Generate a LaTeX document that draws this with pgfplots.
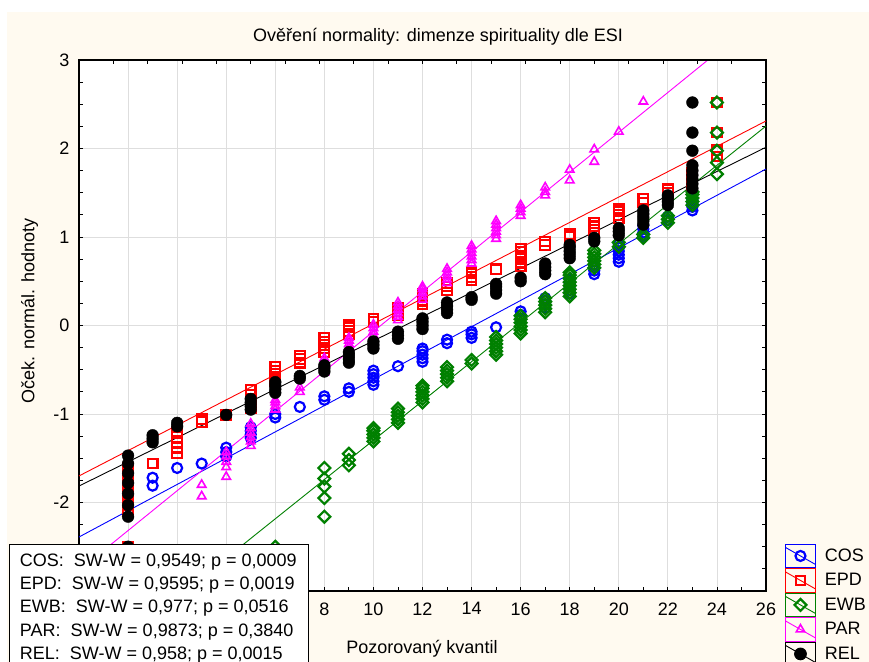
\documentclass[border=0pt]{standalone}
\usepackage{fontspec}
\setmainfont{Liberation Sans}
\usepackage{pgfplots}
\pgfplotsset{compat=1.18}

\definecolor{cream}{RGB}{255,250,240}
\definecolor{gridgray}{RGB}{222,222,222}
\definecolor{ewbgreen}{RGB}{0,128,0}
\definecolor{cosblue}{RGB}{0,0,255}
\definecolor{epdred}{RGB}{255,0,0}
\definecolor{parmag}{RGB}{255,0,255}
\newcommand{\fs}{\fontsize{18bp}{21bp}\selectfont}

\pgfplotsset{
  cosmark/.style={cosblue, mark=o, mark size=5.0bp, mark options={line width=2.2bp}},
  epdmark/.style={epdred, mark=square, mark size=4.8bp, mark options={line width=2.2bp}},
  ewbmark/.style={ewbgreen, mark=square, mark size=4.2bp, mark options={rotate=45, line width=2.2bp}},
  parmark/.style={parmag, mark=triangle, mark size=4.9bp, mark options={line width=1.6bp}},
  relmark/.style={black, mark=*, mark size=5.9bp},
}

\begin{document}
\begin{tikzpicture}
% page = 869 x 662 px, axis box from (79,60) to (766,591) px
\path[use as bounding box] (-79bp,-71bp) rectangle (790bp,591bp);
\fill[white] (-79bp,-71bp) rectangle (790bp,591bp);
\fill[cream] (-72bp,-71bp) rectangle (790bp,579bp);

\begin{axis}[
    at={(0,0)}, anchor=south west,
    scale only axis, width=687bp, height=531bp,
    xmin=-2, xmax=26, ymin=-3, ymax=3,
    xtick={-2,0,...,26}, minor x tick num=1,
    xticklabels={{},{},{},{},{},8,10,12,14,16,18,20,22,24,26},
    ytick={-3,-2,...,3}, minor y tick num=3,
    yticklabels={{},-2,-1,0,1,2,3},
    xtick pos=left, ytick pos=both, yticklabel pos=left,
    tick align=inside, major tick length=4bp, minor tick length=4bp,
    tick style={line width=0.8bp, black},
    axis line style={line width=1.2bp},
    grid=major, major grid style={line width=0.8bp, gridgray},
    axis background/.style={fill=white},
    tick label style={font=\fs},
    /pgf/number format/assume math mode=true,
    xticklabel style={yshift=-8bp},
    yticklabel style={xshift=-6bp},
    legend image code/.code={
        \path (0bp,-11.8bp) rectangle (30bp,11.8bp);
        \draw[mark repeat=2,mark phase=2,#1] plot coordinates {(0bp,8.5bp) (15bp,0bp) (30bp,-8.5bp)};},
    legend style={at={(axis description cs:1.0277,0.0891)}, anchor=north west,
        draw=none, fill=none, inner sep=0pt, outer sep=0pt,
        row sep=0pt, column sep=9bp, font=\fs, nodes={inner sep=0pt}},
    legend cell align=left,
]
% COS
\addplot[only marks, cosmark, forget plot] coordinates {
(1,-1.81)(1,-1.72)(2,-1.61)(3,-1.56)(4,-1.48)(4,-1.43)(4,-1.38)(5,-1.27)(5,-1.23)(5,-1.19)(5,-1.15)
(6,-1.04)(6,-1.00)(7,-0.92)(8,-0.84)(8,-0.80)(9,-0.75)(9,-0.71)(10,-0.67)(10,-0.63)(10,-0.59)(10,-0.55)(10,-0.51)
(11,-0.46)(12,-0.41)(12,-0.37)(12,-0.33)(12,-0.29)(12,-0.26)(13,-0.20)(13,-0.16)(14,-0.14)(14,-0.10)(14,-0.07)
(15,-0.02)(16,0.08)(16,0.12)(16,0.16)(17,0.20)(17,0.24)(17,0.28)(17,0.31)(18,0.36)(18,0.40)(18,0.44)(18,0.48)(18,0.52)
(19,0.58)(19,0.62)(19,0.66)(20,0.72)(20,0.76)(20,0.80)(20,0.84)(20,0.88)(20,0.92)(21,1.01)(21,1.05)(21,1.09)(21,1.13)
(22,1.19)(22,1.23)(23,1.30)(23,1.34)(23,1.38)(23,1.42)};
\addplot[cosblue, line width=0.9bp, forget plot] coordinates {(-2,-2.39) (26,1.768)};
% EPD
\addplot[only marks, epdmark, forget plot] coordinates {
(0,-2.50)(0,-2.10)(0,-2.03)(0,-1.96)(0,-1.89)(0,-1.82)(0,-1.75)(0,-1.68)(0,-1.61)(1,-1.56)
(2,-1.44)(2,-1.38)(2,-1.32)(2,-1.26)(2,-1.20)(3,-1.09)(3,-1.06)(4,-1.01)
(5,-0.93)(5,-0.88)(5,-0.83)(5,-0.78)(5,-0.73)(6,-0.63)(6,-0.59)(6,-0.55)(6,-0.51)(6,-0.47)
(7,-0.42)(7,-0.38)(7,-0.34)(8,-0.30)(8,-0.26)(8,-0.22)(8,-0.18)(8,-0.14)(9,-0.10)(9,-0.06)(9,-0.02)(9,0.01)
(10,0.04)(10,0.08)(11,0.12)(11,0.16)(11,0.20)(12,0.24)(12,0.28)(12,0.32)(12,0.36)(13,0.40)(13,0.44)(13,0.48)
(14,0.51)(14,0.55)(14,0.59)(15,0.635)(16,0.67)(16,0.71)(16,0.75)(16,0.79)(16,0.83)(16,0.87)(17,0.91)(17,0.95)
(18,1.00)(18,1.03)(19,1.08)(19,1.12)(19,1.16)(20,1.21)(20,1.25)(20,1.29)(20,1.32)(21,1.39)(21,1.43)
(22,1.50)(22,1.54)(23,1.57)(23,1.61)(23,1.65)(23,1.69)(23,1.72)(24,1.91)(24,1.98)(24,2.18)(24,2.52)};
\addplot[epdred, line width=0.9bp, forget plot] coordinates {(-2,-1.70) (26,2.311)};
% EWB
\addplot[only marks, ewbmark, forget plot] coordinates {
(6,-2.50)(8,-2.16)(8,-1.95)(8,-1.82)(8,-1.73)(8,-1.61)(9,-1.58)(9,-1.52)(9,-1.45)
(10,-1.31)(10,-1.27)(10,-1.23)(10,-1.19)(10,-1.16)(11,-1.10)(11,-1.06)(11,-1.02)(11,-0.98)(11,-0.94)
(12,-0.87)(12,-0.83)(12,-0.79)(12,-0.75)(12,-0.71)(12,-0.68)(13,-0.63)(13,-0.59)(13,-0.55)(13,-0.51)(13,-0.47)
(14,-0.43)(14,-0.39)(15,-0.33)(15,-0.29)(15,-0.25)(15,-0.21)(15,-0.17)(15,-0.13)
(16,-0.09)(16,-0.05)(16,-0.01)(16,0.03)(16,0.07)(16,0.11)(17,0.15)(17,0.19)(17,0.23)(17,0.27)(17,0.31)
(18,0.33)(18,0.37)(18,0.41)(18,0.45)(18,0.49)(18,0.53)(18,0.57)(18,0.60)
(19,0.65)(19,0.69)(19,0.73)(19,0.77)(19,0.81)(19,0.85)(20,0.89)(20,0.94)(21,0.99)(21,1.03)
(22,1.16)(22,1.20)(22,1.24)(23,1.36)(23,1.40)(23,1.44)(23,1.48)(23,1.51)
(24,1.71)(24,1.84)(24,1.975)(24,2.18)(24,2.52)};
\addplot[ewbgreen, line width=0.9bp, forget plot] coordinates {(-2,-3.96) (26,2.254)};
% PAR
\addplot[only marks, parmark, forget plot] coordinates {
(3,-1.93)(3,-1.80)(4,-1.71)(4,-1.60)(4,-1.54)(4,-1.48)(4,-1.43)
(5,-1.36)(5,-1.31)(5,-1.26)(5,-1.21)(5,-1.16)(5,-1.11)(6,-0.95)(6,-0.91)(6,-0.87)(6,-0.84)(7,-0.75)(7,-0.70)
(8,-0.53)(8,-0.49)(8,-0.45)(8,-0.41)(8,-0.37)(9,-0.33)(9,-0.29)(9,-0.25)(9,-0.21)(9,-0.17)(9,-0.14)
(10,-0.11)(10,-0.07)(10,-0.03)(10,0.01)(11,0.06)(11,0.10)(11,0.14)(11,0.18)(11,0.22)(11,0.26)
(12,0.29)(12,0.33)(12,0.37)(12,0.41)(12,0.44)(13,0.48)(13,0.52)(13,0.56)(13,0.60)(13,0.64)
(14,0.70)(14,0.74)(14,0.78)(14,0.82)(14,0.86)(14,0.90)(15,0.98)(15,1.02)(15,1.06)(15,1.10)(15,1.14)(15,1.18)
(16,1.24)(16,1.28)(16,1.32)(16,1.36)(17,1.47)(17,1.51)(17,1.56)(18,1.64)(18,1.76)(19,1.85)(19,1.99)
(20,2.19)(21,2.53)};
\addplot[parmag, line width=0.9bp, forget plot] coordinates {(-2,-2.767) (26,3.533)};
% REL
\addplot[only marks, relmark, forget plot] coordinates {
(0,-2.50)(0,-2.16)(0,-2.03)(0,-1.90)(0,-1.78)(0,-1.67)(0,-1.56)(0,-1.47)
(1,-1.32)(1,-1.28)(1,-1.24)(2,-1.14)(2,-1.10)(4,-1.01)(5,-0.95)(5,-0.91)(5,-0.87)(5,-0.83)
(6,-0.76)(6,-0.72)(6,-0.68)(6,-0.64)(7,-0.60)(7,-0.57)(8,-0.52)(8,-0.48)(8,-0.45)
(9,-0.42)(9,-0.38)(9,-0.34)(9,-0.30)(10,-0.26)(10,-0.22)(10,-0.18)(11,-0.15)(11,-0.11)(11,-0.07)
(12,-0.04)(12,0.00)(12,0.04)(12,0.08)(13,0.14)(13,0.18)(13,0.22)(13,0.26)(14,0.29)(14,0.32)
(15,0.36)(15,0.40)(15,0.44)(15,0.47)(16,0.50)(16,0.54)(17,0.58)(17,0.62)(17,0.66)(17,0.70)
(18,0.76)(18,0.80)(18,0.84)(18,0.88)(18,0.91)(19,0.95)(19,0.99)(20,1.02)(20,1.06)(20,1.10)
(21,1.14)(21,1.18)(21,1.22)(21,1.26)(21,1.30)(22,1.36)(22,1.40)(22,1.44)(22,1.47)
(23,1.55)(23,1.60)(23,1.65)(23,1.70)(23,1.75)(23,1.81)(23,1.975)(23,2.18)(23,2.52)};
\addplot[black, line width=0.9bp, forget plot] coordinates {(-2,-1.814) (26,2.014)};

\addlegendimage{cosmark, line width=0.9bp}
\addlegendentry{COS}
\addlegendimage{epdmark, line width=0.9bp}
\addlegendentry{EPD}
\addlegendimage{ewbmark, line width=0.9bp}
\addlegendentry{EWB}
\addlegendimage{parmark, line width=0.9bp}
\addlegendentry{PAR}
\addlegendimage{relmark, line width=0.9bp}
\addlegendentry{REL}
\end{axis}

% top axis ticks (different spacing in the original)
\begin{axis}[
    at={(0,0)}, anchor=south west,
    scale only axis, width=687bp, height=531bp,
    xmin=-2, xmax=26, ymin=-3, ymax=3,
    axis x line*=top, axis y line=none,
    xtick={-0.6,0.8,...,25}, xticklabels={},
    tick align=inside, major tick length=4bp,
    tick style={line width=0.8bp, black},
    axis line style={line width=1.2bp},
]
\end{axis}

\node[anchor=base, font=\fs] at (359bp,549bp) {Ověření normality: dimenze spirituality dle ESI};
\node[anchor=base, font=\fs] at (343bp,-62.3bp) {Pozorovaný kvantil};
\node[anchor=base, rotate=90, font=\fs] at (-44.5bp,280bp) {Oček. normál. hodnoty};

\draw[line width=1bp, fill=white] (-69bp,46bp) rectangle (229.3bp,-80bp);
\begin{scope}[every node/.style={anchor=base west, inner sep=0pt, font=\fs}]
\node at (-59.3bp,24.5bp) {COS:\ \ SW-W = 0,9549; p = 0,0009};
\node at (-59.3bp,1.3bp) {EPD:\ \ SW-W = 0,9595; p = 0,0019};
\node at (-59.3bp,-21.9bp) {EWB:\ \ SW-W = 0,977; p = 0,0516};
\node at (-59.3bp,-45.1bp) {PAR:\ \ SW-W = 0,9873; p = 0,3840};
\node at (-59.3bp,-68.3bp) {REL:\ \ SW-W = 0,958; p = 0,0015};
\end{scope}
\end{tikzpicture}
\end{document}
